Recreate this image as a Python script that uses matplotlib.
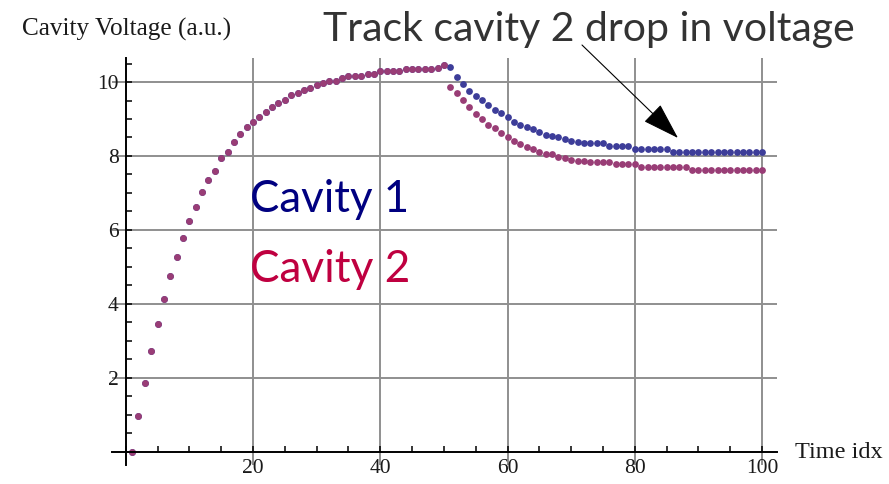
import matplotlib
matplotlib.use("Agg")
import matplotlib.pyplot as plt
from matplotlib.patches import FancyArrowPatch
from matplotlib.ticker import MultipleLocator, FixedLocator
import numpy as np

# ---------------- data ----------------
time_idx = list(range(1, 101))

cavity2 = [
    0.00, 0.96, 1.87, 2.73, 3.45, 4.14, 4.74, 5.26, 5.79, 6.24,
    6.63, 7.02, 7.34, 7.60, 7.94, 8.12, 8.38, 8.59, 8.79, 8.93,
    9.05, 9.19, 9.32, 9.44, 9.51, 9.64, 9.70, 9.78, 9.85, 9.91,
    9.98, 10.04, 10.04, 10.10, 10.16, 10.15, 10.15, 10.22, 10.22, 10.30,
    10.29, 10.29, 10.29, 10.36, 10.36, 10.36, 10.36, 10.36, 10.38, 10.45,
    9.87, 9.69, 9.51, 9.32, 9.14, 8.99, 8.84, 8.75, 8.63, 8.51,
    8.41, 8.32, 8.24, 8.18, 8.10, 8.05, 8.05, 7.98, 7.94, 7.90,
    7.87, 7.87, 7.84, 7.84, 7.84, 7.84, 7.77, 7.77, 7.77, 7.77,
    7.71, 7.71, 7.71, 7.71, 7.71, 7.71, 7.71, 7.71, 7.61, 7.61,
    7.61, 7.61, 7.61, 7.61, 7.61, 7.61, 7.61, 7.61, 7.61, 7.61,
]

cavity1 = cavity2[:50] + [
    10.41, 10.14, 9.96, 9.77, 9.63, 9.51, 9.38, 9.24, 9.15, 9.05,
    8.93, 8.84, 8.79, 8.74, 8.66, 8.57, 8.53, 8.50, 8.45, 8.41,
    8.39, 8.36, 8.34, 8.34, 8.34, 8.27, 8.27, 8.27, 8.27, 8.20,
    8.20, 8.20, 8.20, 8.20, 8.20, 8.12, 8.12, 8.12, 8.12, 8.12,
    8.12, 8.12, 8.12, 8.12, 8.12, 8.12, 8.12, 8.12, 8.12, 8.12,
]

x_ticks = [20, 40, 60, 80, 100]
y_ticks = [2, 4, 6, 8, 10]

# ---------------- figure ----------------
W, H = 889, 484
fig = plt.figure(figsize=(W / 100, H / 100), dpi=100)

def fx(px):
    return px / W

def fy(py):
    return 1 - py / H

ax = fig.add_axes([fx(111.7), fy(465), fx(776.7) - fx(111.7), fy(58) - fy(465)])
ax.set_xlim(-2.2, 102.3)
ax.set_ylim(-0.36, 10.65)

c1 = "#3d3d99"
c2 = "#993d76"
ax.plot(time_idx, cavity1, "o", color=c1, ms=4.9, mew=0, zorder=3)
ax.plot(time_idx, cavity2, "o", color=c2, ms=4.9, mew=0, zorder=4)

# axes at the origin, Mathematica-like
for s in ["top", "right"]:
    ax.spines[s].set_visible(False)
ax.spines["left"].set_position(("data", 0))
ax.spines["bottom"].set_position(("data", 0))
for s in ["left", "bottom"]:
    ax.spines[s].set_linewidth(1.4)
    ax.spines[s].set_color("black")
    ax.spines[s].set_zorder(5)

ax.xaxis.set_major_locator(FixedLocator(x_ticks))
ax.yaxis.set_major_locator(FixedLocator(y_ticks))
ax.xaxis.set_minor_locator(MultipleLocator(5))
ax.yaxis.set_minor_locator(MultipleLocator(0.5))
ax.tick_params(which="both", direction="in", color="black", width=1.1)
ax.tick_params(which="major", length=4.5, pad=5)
ax.tick_params(which="minor", length=4.2)
for lab in ax.get_xticklabels() + ax.get_yticklabels():
    lab.set_fontfamily("Liberation Serif")
    lab.set_fontsize(15.5)
    lab.set_color("#1a1a1a")

ax.grid(True, which="major", color="#8f8f8f", lw=1.4, zorder=1)
ax.set_axisbelow(True)
ax.patch.set_alpha(0)

# ---------------- texts ----------------
fig.canvas.draw()
renderer = fig.canvas.get_renderer()

def fit(t, width_px):
    bb = t.get_window_extent(renderer)
    t.set_fontsize(t.get_fontsize() * width_px / bb.width)

t_y = fig.text(fx(22), fy(29), "Cavity Voltage (a.u.)", family="Liberation Serif",
               fontsize=14, ha="left", va="center", color="#1a1a1a")
fit(t_y, 210)
t_x = fig.text(fx(795), fy(452), "Time idx", family="Liberation Serif",
               fontsize=14, ha="left", va="center", color="#1a1a1a")
fit(t_x, 88)

t_track = fig.text(fx(323), fy(41), "Track cavity 2 drop in voltage", family="Lato",
                   fontsize=26, ha="left", va="baseline", color="#333333")
fit(t_track, 532)
t_c1 = fig.text(fx(250), fy(212), "Cavity 1", family="Lato",
                fontsize=30, ha="left", va="baseline", color="#000080")
fit(t_c1, 159)
t_c2 = fig.text(fx(250), fy(282), "Cavity 2", family="Lato",
                fontsize=30, ha="left", va="baseline", color="#bf0040")
fit(t_c2, 160)

arrow = FancyArrowPatch((fx(582), fy(45)), (fx(678), fy(138)),
                        transform=fig.transFigure,
                        arrowstyle="-|>,head_length=1.19,head_width=0.38",
                        mutation_scale=20, color="black", lw=0.8,
                        shrinkA=0, shrinkB=0)
fig.add_artist(arrow)

fig.savefig("out.png", dpi=100)
